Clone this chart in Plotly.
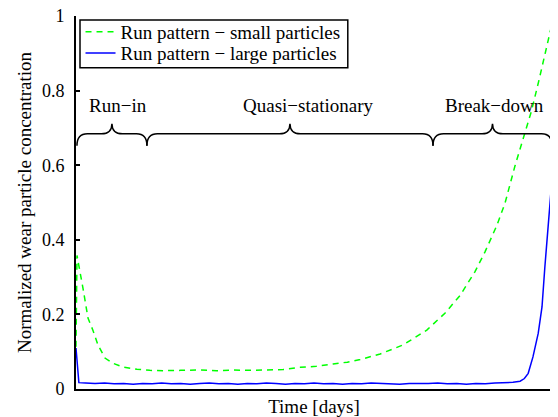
import plotly.graph_objects as go

# ---- data ----
time_small = [0, 0.21, 1.47, 2.52, 3.57, 4.62, 6.09, 7.77, 9.87, 12.8, 15.5, 18.3, 22.0, 26.1,
              29.5, 33.0, 36.5, 40.0, 43.5, 47.1, 50.5, 54.0, 57.0, 59.7, 63.9, 68.7, 73.7,
              77.5, 80.7, 83.8, 85.9, 88.4, 90.1, 92.2, 95.7, 97.3, 100]
small = [0.113, 0.358, 0.27, 0.19, 0.157, 0.118, 0.083, 0.069, 0.059, 0.053, 0.050, 0.049, 0.050,
         0.051, 0.049, 0.051, 0.050, 0.052, 0.052, 0.058, 0.061, 0.067, 0.072, 0.079, 0.094,
         0.118, 0.158, 0.203, 0.251, 0.314, 0.367, 0.438, 0.497, 0.597, 0.746, 0.83, 0.979]

time_large = [0, 0.3, 0.6, 2, 4, 6, 8, 10, 12, 14, 16, 18, 20, 22, 24, 26, 28, 30, 32, 34, 36, 38,
              40, 42, 44, 46, 48, 50, 52, 54, 56, 58, 60, 62, 64, 66, 68, 70, 72, 74, 76, 78, 80,
              82, 84, 86, 88, 90, 91.8, 93.3, 94.2, 95.0, 96.0, 97.1, 97.9, 98.5, 99.2, 100]
large = [0.11, 0.05, 0.017, 0.016, 0.015, 0.016, 0.014, 0.015, 0.013, 0.015, 0.014, 0.016, 0.014,
         0.015, 0.013, 0.015, 0.016, 0.014, 0.015, 0.013, 0.015, 0.014, 0.016, 0.015, 0.013,
         0.015, 0.014, 0.016, 0.014, 0.015, 0.013, 0.015, 0.014, 0.016, 0.015, 0.014, 0.013,
         0.015, 0.014, 0.015, 0.016, 0.014, 0.015, 0.013, 0.015, 0.014, 0.016, 0.016, 0.018,
         0.021, 0.028, 0.042, 0.086, 0.149, 0.22, 0.327, 0.434, 0.564]

series_names = ["Run pattern \u2212 small particles", "Run pattern \u2212 large particles"]

phase_names = ["Run\u2212in", "Quasi\u2212stationary", "Break\u2212down"]
phase_bounds = [0.2, 14.9, 75.0, 100.0]
phase_label_x = [8.9, 48.7, 88.0]

y_ticks = [0, 0.2, 0.4, 0.6, 0.8, 1.0]
y_tick_text = ["0", "0.2", "0.4", "0.6", "0.8", "1"]

FONT = "Liberation Serif, Times New Roman, serif"

fig = go.Figure()
fig.add_trace(go.Scatter(x=time_small, y=small, mode="lines", name=series_names[0],
                         line=dict(color="#00ff00", width=1.5, dash="6px,5px"),
                         legend="legend"))
fig.add_trace(go.Scatter(x=time_large, y=large, mode="lines", name=series_names[1],
                         line=dict(color="#0000ff", width=1.5), legend="legend2"))

# braces
y_bottom, y_line, y_tip = 0.652, 0.684, 0.711
r = 2.2
shapes = []
for i in range(len(phase_names)):
    x0, x1 = phase_bounds[i], phase_bounds[i + 1]
    xm = (x0 + x1) / 2
    path = (f"M {x0},{y_bottom} Q {x0},{y_line} {x0 + r},{y_line} "
            f"L {xm - r},{y_line} Q {xm},{y_line} {xm},{y_tip} "
            f"Q {xm},{y_line} {xm + r},{y_line} L {x1 - r},{y_line} "
            f"Q {x1},{y_line} {x1},{y_bottom}")
    shapes.append(dict(type="path", path=path, xref="x", yref="y",
                       line=dict(color="black", width=1.5)))

# legend frame (two single-entry legends inside one box, for a tight row spacing)
leg_box = dict(x0=0.0084, x1=0.571, y0=0.861, y1=0.989)
leg_rows = [0.9545, 0.898]
shapes.append(dict(type="rect", xref="paper", yref="paper", **leg_box,
                   line=dict(color="black", width=1.5), fillcolor="rgba(0,0,0,0)"))

annotations = []
for name, lx in zip(phase_names, phase_label_x):
    annotations.append(dict(x=lx, y=0.759, xref="x", yref="y", text=name, showarrow=False,
                            font=dict(family=FONT, size=19, color="black"),
                            xanchor="center", yanchor="middle"))

leg_common = dict(xanchor="left", yanchor="middle", bgcolor="rgba(0,0,0,0)",
                  borderwidth=0, font=dict(family=FONT, size=19, color="black"),
                  itemwidth=30)

# the page adds an 8px body margin, so the figure is sized to fit the remaining window
fig.update_layout(
    width=550, height=409,
    margin=dict(l=68, r=6, t=7, b=28),
    paper_bgcolor="white", plot_bgcolor="white",
    font=dict(family=FONT, size=19, color="black"),
    shapes=shapes, annotations=annotations,
    showlegend=True,
    legend=dict(x=0.0095, y=leg_rows[0], **leg_common),
    legend2=dict(x=0.0095, y=leg_rows[1], **leg_common),
)
fig.update_xaxes(range=[0, 100], showgrid=False, zeroline=False, showline=True,
                 linecolor="black", linewidth=2, ticks="", showticklabels=False,
                 automargin=False,
                 title=dict(text="Time [days]", standoff=10,
                            font=dict(family=FONT, size=19, color="black")))
fig.update_yaxes(range=[0, 1], showgrid=False, zeroline=False, showline=True,
                 linecolor="black", linewidth=2, ticks="inside", ticklen=4, tickwidth=1.5,
                 tickcolor="black", tickvals=y_ticks, ticktext=y_tick_text,
                 tickfont=dict(family=FONT, size=18, color="black"), ticklabelstandoff=6,
                 ticklabeloverflow="allow",
                 automargin=False,
                 title=dict(text="Normalized wear particle concentration", standoff=5,
                            font=dict(family=FONT, size=19, color="black")))

fig.write_html("out.html")
